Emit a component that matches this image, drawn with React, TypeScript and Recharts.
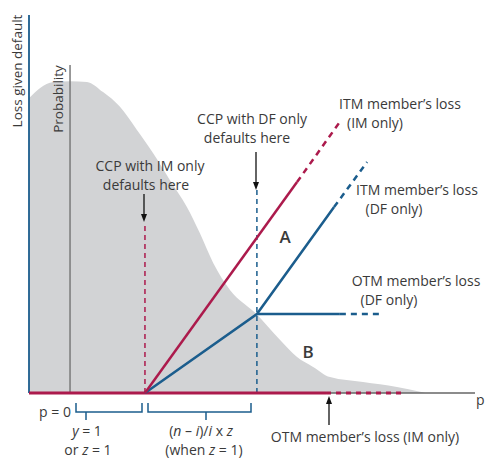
import { ComposedChart, Area, Line, XAxis, YAxis } from 'recharts'

// density of the probability curve (grey shape)
const densityX = [0, 2.5, 5.4, 9.2, 13.0, 16.6, 20.4, 24.2, 27.8, 31.6, 35.4, 38.3, 41.3, 45.1, 50.7, 56.3, 60.1, 63.7, 67.5, 74.9, 82.5, 87.7, 88.8]
const densityY = [78.0, 80.7, 82.3, 82.5, 82.3, 79.6, 75.7, 69.6, 63.5, 56.3, 49.2, 42.3, 34.4, 27.2, 21.2, 14.0, 9.5, 6.9, 4.2, 2.9, 1.6, 0.3, 0]

// loss lines, each as solid part + dashed continuation
const itmImSolid = [{ x: 26, y: 0 }, { x: 60.1, y: 55.8 }]
const itmImDashed = [{ x: 60.1, y: 55.8 }, { x: 69.5, y: 71.4 }]
const itmDfSolid = [{ x: 26, y: 0 }, { x: 51.1, y: 20.9 }, { x: 68.4, y: 49.2 }]
const itmDfDashed = [{ x: 68.4, y: 49.2 }, { x: 75.8, y: 61.1 }]
const otmDfSolid = [{ x: 51.1, y: 20.9 }, { x: 69.7, y: 20.9 }]
const otmDfDashed = [{ x: 69.7, y: 20.9 }, { x: 79.4, y: 20.9 }]
const otmImSolid = [{ x: 0, y: 0 }, { x: 66.6, y: 0 }]
const otmImDashed = [{ x: 66.6, y: 0 }, { x: 84.3, y: 0 }]

// default points and axes
const imDefault = [{ x: 26, y: 0 }, { x: 26, y: 45.2 }]
const dfDefault = [{ x: 51.1, y: 0 }, { x: 51.1, y: 53.7 }]
const probAxis = [{ x: 9.2, y: 0 }, { x: 9.2, y: 86.8 }]
const lossAxis = [{ x: 0, y: 0 }, { x: 0, y: 100 }]
const pAxis = [{ x: 0, y: 0 }, { x: 100, y: 0 }]

const densityData = densityX.map((x, i) => ({ x, y: densityY[i] }))

const RED = '#ac1a4c'
const BLUE = '#1b5d8d'
const TEXT = '#3a3a3a'
const FONT = "'Open Sans', sans-serif"

function Arrow({ x, y1, y2 }: { x: number; y1: number; y2: number }) {
  const dir = y2 > y1 ? 1 : -1
  return (
    <g>
      <line x1={x} y1={y1} x2={x} y2={y2 - dir * 6} stroke="#111" strokeWidth={1.3} />
      <path d={`M${x - 3},${y2 - dir * 8} L${x + 3},${y2 - dir * 8} L${x},${y2} Z`} fill="#111" />
    </g>
  )
}

function Annotations() {
  const t = { fontFamily: FONT, fontSize: 14, fill: TEXT }
  return (
    <svg width={485} height={459} style={{ position: 'absolute', left: 0, top: 0, pointerEvents: 'none' }}>
      <text {...t} fontSize={13.5} x={17} y={71} textAnchor="middle" dominantBaseline="central" transform="rotate(-90 17 71)">Loss given default</text>
      <text {...t} fontSize={13.5} x={58} y={99} textAnchor="middle" dominantBaseline="central" transform="rotate(-90 58 99)">Probability</text>

      <text {...t} x={150} y={171} textAnchor="middle">CCP with IM only</text>
      <text {...t} x={146} y={190} textAnchor="middle">defaults here</text>
      <Arrow x={144} y1={194} y2={222} />

      <text {...t} x={252} y={124} textAnchor="middle">CCP with DF only</text>
      <text {...t} x={247} y={143} textAnchor="middle">defaults here</text>
      <Arrow x={256} y1={152} y2={190} />

      <text {...t} x={400} y={109} textAnchor="middle">ITM member’s loss</text>
      <text {...t} x={375} y={128} textAnchor="middle">(IM only)</text>
      <text {...t} x={417} y={195} textAnchor="middle">ITM member’s loss</text>
      <text {...t} x={394} y={214} textAnchor="middle">(DF only)</text>
      <text {...t} x={416} y={286} textAnchor="middle">OTM member’s loss</text>
      <text {...t} x={389} y={305} textAnchor="middle">(DF only)</text>

      <text {...t} fontSize={17} fontWeight={600} x={285} y={243} textAnchor="middle">A</text>
      <text {...t} fontSize={17} fontWeight={600} x={308} y={358} textAnchor="middle">B</text>

      <text {...t} x={476} y={405}>p</text>
      <text {...t} x={55} y={417} textAnchor="middle">p = 0</text>

      <path d="M76,403 V412 H142 V403 M86,412 V420" fill="none" stroke={BLUE} strokeWidth={1.5} />
      <path d="M148,403 V412 H251 V403 M206,412 V420" fill="none" stroke={BLUE} strokeWidth={1.5} />

      <text {...t} x={87} y={436} textAnchor="middle"><tspan fontStyle="italic">y</tspan> = 1</text>
      <text {...t} x={88} y={455} textAnchor="middle">or <tspan fontStyle="italic">z</tspan> = 1</text>
      <text {...t} x={201} y={436} textAnchor="middle">(<tspan fontStyle="italic">n</tspan> – <tspan fontStyle="italic">i</tspan>)/<tspan fontStyle="italic">i</tspan> x <tspan fontStyle="italic">z</tspan></text>
      <text {...t} x={204} y={455} textAnchor="middle">(when <tspan fontStyle="italic">z</tspan> = 1)</text>

      <Arrow x={329} y1={425} y2={396} />
      <text {...t} x={365} y={442} textAnchor="middle">OTM member’s loss (IM only)</text>
    </svg>
  )
}

export default function App() {
  const seg = (data: { x: number; y: number }[], color: string, width: number, dash?: string) => (
    <Line
      data={data}
      dataKey="y"
      type="linear"
      stroke={color}
      strokeWidth={width}
      strokeDasharray={dash}
      dot={false}
      activeDot={false}
      isAnimationActive={false}
    />
  )
  return (
    <div style={{ position: 'relative', width: 485, height: 459, background: '#fff' }}>
      <style>{'body{margin:0}'}</style>
      <ComposedChart width={485} height={459} data={densityData} margin={{ top: 15, right: 10, bottom: 66, left: 29 }}>
        <XAxis dataKey="x" type="number" domain={[0, 100]} hide />
        <YAxis type="number" domain={[0, 100]} hide />
        <Area dataKey="y" type="monotone" fill="#d2d3d5" fillOpacity={1} stroke="none" isAnimationActive={false} />
        {seg(pAxis, '#666', 1.3)}
        {seg(lossAxis, BLUE, 1.8)}
        {seg(probAxis, '#7a7a7a', 1.5)}
        {seg(imDefault, RED, 1.5, '5 4')}
        {seg(dfDefault, BLUE, 1.5, '5 4')}
        {seg(otmImSolid, RED, 3)}
        {seg(otmImDashed, RED, 3, '5 5')}
        {seg(otmDfSolid, BLUE, 2.5)}
        {seg(otmDfDashed, BLUE, 2.5, '6 5')}
        {seg(itmDfSolid, BLUE, 2.5)}
        {seg(itmDfDashed, BLUE, 2.5, '6 5')}
        {seg(itmImSolid, RED, 2.5)}
        {seg(itmImDashed, RED, 2.5, '6 5')}
      </ComposedChart>
      <Annotations />
    </div>
  )
}
